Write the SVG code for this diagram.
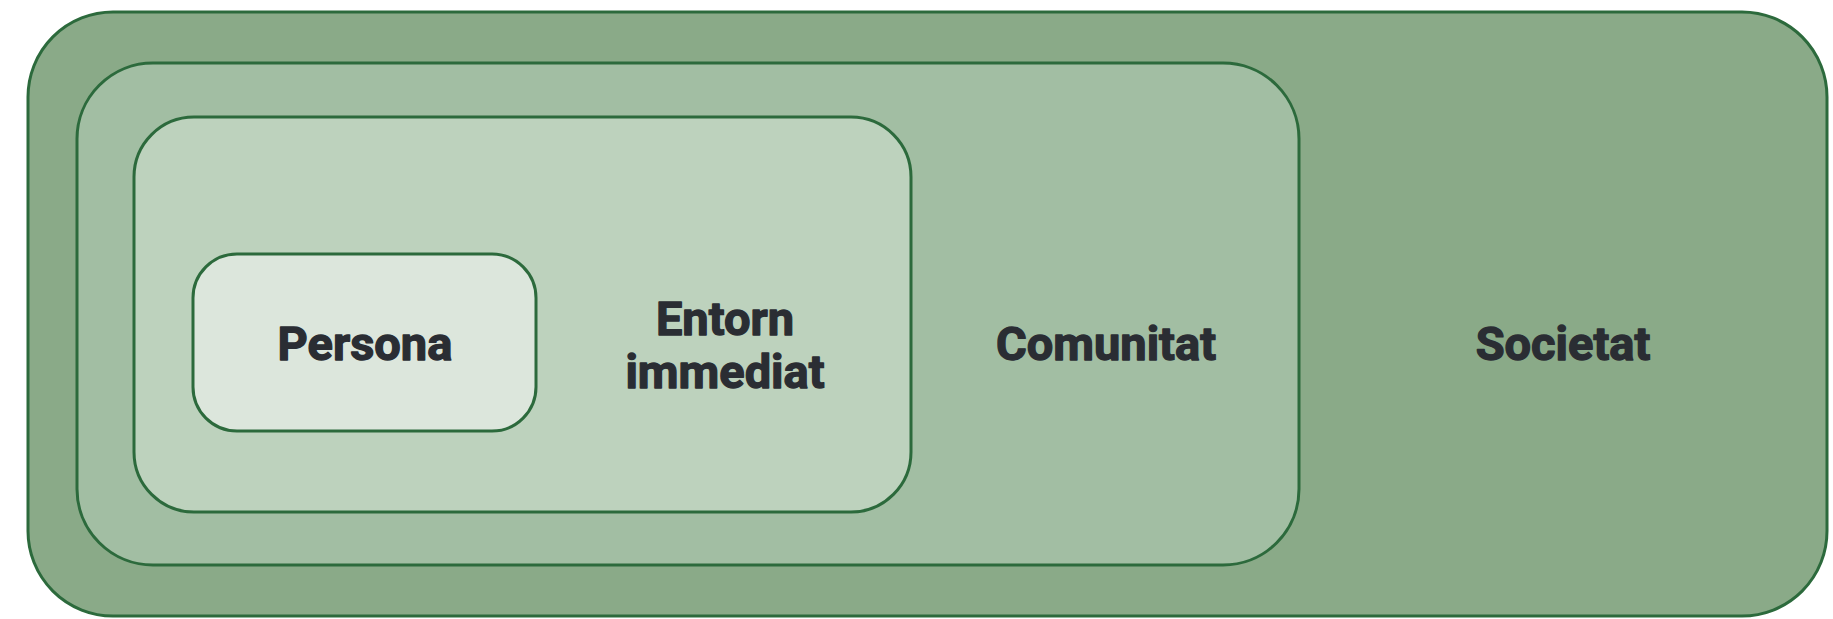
<svg xmlns="http://www.w3.org/2000/svg" width="1833" height="619" viewBox="0 0 1833 619">
<style>
.box{stroke:#2c6a3c;stroke-width:3}
.lbl{font-family:Roboto,"Liberation Sans",sans-serif;font-weight:700;font-size:47px;fill:#2a2d33;stroke:#2a2d33;stroke-width:1.3;stroke-linejoin:round;text-anchor:middle}
</style>
<rect width="1833" height="619" fill="#ffffff"/>
<g id="societat">
<rect class="box" x="28" y="12" width="1799" height="604" rx="85" ry="85" fill="#8aaa88"/>
<text class="lbl" x="1563" y="360">Societat</text>
</g>
<g id="comunitat">
<rect class="box" x="77" y="63" width="1222" height="502" rx="76" ry="76" fill="#a2bea3"/>
<text class="lbl" x="1106" y="360">Comunitat</text>
</g>
<g id="entorn">
<rect class="box" x="134" y="117" width="777" height="395" rx="60" ry="60" fill="#bdd2bd"/>
<text class="lbl" x="725" y="335">Entorn</text>
<text class="lbl" x="725" y="388">immediat</text>
</g>
<g id="persona">
<rect class="box" x="193" y="254" width="343" height="177" rx="44" ry="44" fill="#dce6dc"/>
<text class="lbl" x="365" y="360">Persona</text>
</g>
<g id="connectors"></g>
</svg>
